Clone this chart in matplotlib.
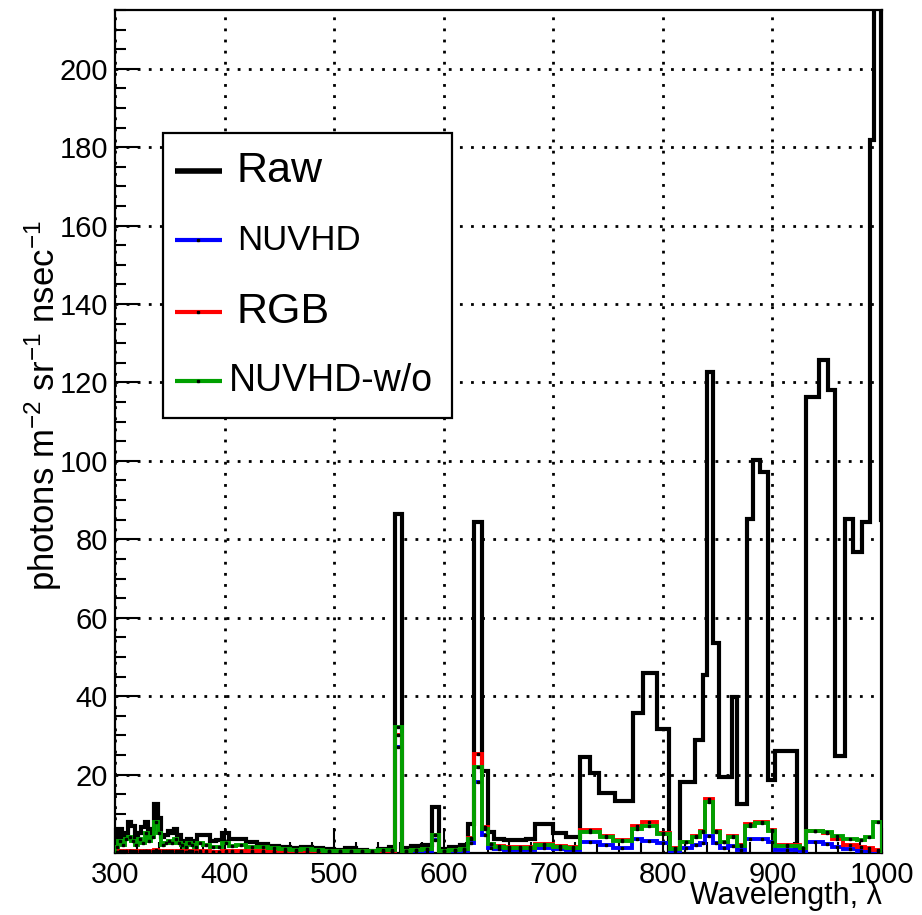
import numpy as np
import matplotlib.pyplot as plt
from matplotlib.patches import Rectangle
from matplotlib.ticker import MultipleLocator

plt.rcParams['font.family'] = ['Liberation Sans', 'DejaVu Sans']
plt.rcParams['mathtext.fontset'] = 'custom'
plt.rcParams['mathtext.rm'] = 'Liberation Sans'
plt.rcParams['mathtext.it'] = 'Liberation Sans'

# bin edges (nm) for the raw spectrum
wl_raw = [300, 303, 306, 309, 312, 315, 318, 321, 324, 327, 330, 333, 336, 339,
          342, 345, 348, 351, 354, 357, 360, 363, 366, 369, 372, 375, 380, 387,
          392, 398, 404, 410, 420, 430, 440, 450, 460, 470, 480, 490, 500, 510,
          520, 530, 540, 550, 555.5, 561.5, 570, 580, 589, 596, 605, 615, 622,
          627.6, 634.7, 640, 646, 655, 665, 675, 683, 700, 712,
          724.5, 733.5, 741.7, 756, 772.5, 782, 794.4, 806, 815.6, 829, 836.3,
          840, 845.5, 851.5, 862.8, 868, 876.5, 882.6, 888.7, 895.7, 902.3, 922,
          931, 942.8, 951, 957, 966, 973.8, 981.5, 989, 992.7, 999.5, 1000]

raw = [3, 6, 4, 5, 8, 7, 3.5, 5, 6.5, 8, 4.5, 6, 12.5, 9, 4, 4.5, 5.5, 5, 6,
       4.5, 3, 2.5, 3.5, 3, 2.5, 4.5, 4.5, 3, 3.2, 5, 3.5, 3.5,
       2.8, 2.4, 1.8, 1.5, 1.3, 1.5, 1.2, 1.0, 0.8, 1.2, 0.8, 0.6, 1.0,
       1.5, 86.5, 1.2, 1.8, 2.0, 11.8, 1.0, 1.5, 2.0, 7.5,
       84.5, 20.8, 5.3, 3.5, 3.2, 3.2, 3.5, 7.5, 5, 4,
       24.6, 20.3, 15.2, 13.3, 35.6, 45.8, 31.7, 0.3, 18, 28.7, 45.3, 122.7,
       53.5, 19.3, 39.7, 12.5, 85.3, 100.3, 97.2, 18.5, 26.1, 0.3, 116.2,
       125.7, 118.2, 24.8, 85.3, 76.7, 84.4, 181.8, 240, 85]

# bin edges (nm) for the filtered spectra
wl_filt = [300, 303, 306, 309, 312, 315, 318, 321, 324, 327, 330, 333, 336, 339,
           342, 345, 348, 351, 354, 357, 360, 363, 366, 369, 372, 375, 380, 387,
           392, 398, 404, 410, 420, 430, 440, 450, 460, 470, 480, 490, 500, 510,
           520, 530, 540, 550, 555.5, 561.5, 570, 580, 589, 596, 605, 615, 622,
           627.6, 634.7, 640, 646, 655, 665, 675, 683, 700, 712,
           724, 742.6, 754.5, 771.5, 780.7, 794.4, 806.5, 815.7, 826.3, 834,
           838.5, 845.5, 852, 859.8, 867.4, 875, 884, 896.2, 902.3, 925, 931,
           946, 954, 964.7, 976.9, 984.5, 992, 1000]

nuvhd = [0.2, 0.3, 0.2, 0.3, 0.4, 0.3, 0.2, 0.3, 0.2, 0.4, 0.3, 0.3, 0.5, 0.4,
         0.2, 0.2, 0.3, 0.2, 0.3, 0.2, 0.2, 0.2, 0.2, 0.2, 0.2,
         0.3, 0.2, 0.2, 0.2, 0.3, 0.2, 0.3,
         0.3, 0.3, 0.3, 0.3, 0.3, 0.3, 0.3, 0.3, 0.2, 0.3, 0.2, 0.2, 0.3,
         0.3, 27, 0.3, 0.4, 0.5, 3.2, 0.4, 0.5, 0.6, 2.5,
         18, 4.5, 1.2, 0.9, 0.8, 0.8, 0.8, 1.2, 1.0, 0.8,
         2.7, 2.0, 1.2, 3.6, 3.1, 2.5, 0.6, 1.3, 2.0, 2.5, 4.4, 2.5, 1.2, 1.8,
         0.7, 3.6, 3.6, 2.8, 0.7, 0.5, 2.7, 2.2, 1.6, 0.9, 0.6, 0.5, 0.4]

rgb = [0.3, 0.5, 0.4, 0.5, 0.6, 0.5, 0.4, 0.5, 0.4, 0.6, 0.5, 0.5, 0.8, 0.6,
       0.4, 0.4, 0.5, 0.4, 0.5, 0.4, 0.4, 0.3, 0.4, 0.4, 0.3,
       0.4, 0.4, 0.3, 0.3, 0.5, 0.4, 0.5,
       0.5, 0.6, 0.6, 0.5, 0.5, 0.6, 0.5, 0.5, 0.4, 0.5, 0.4, 0.3, 0.5,
       0.6, 30, 0.5, 0.7, 0.9, 4.5, 0.6, 0.8, 1.1, 3.8,
       25.3, 6.6, 2.4, 1.7, 1.5, 1.4, 1.5, 2.2, 1.8, 1.5,
       5.8, 4.4, 3.4, 6.8, 7.8, 5.2, 1.2, 2.9, 4.2, 5.6, 13.8, 5.6, 2.9, 4.2,
       2.0, 7.3, 7.9, 5.9, 2.0, 1.2, 5.5, 5.0, 3.5, 2.0, 1.5, 1.2, 0.8]

nuvhd_wo = [1.5, 3, 2, 3.5, 4, 3, 2, 3.5, 2.5, 5, 3, 4, 8, 5, 2, 2.5, 3, 2.5,
            3.5, 2.5, 2, 1.5, 2.5, 2, 1.5,
            2.5, 2, 1.5, 1.5, 2.5, 1.8, 2,
            1.5, 1.5, 1.2, 1, 0.8, 0.9, 0.7, 0.6, 0.5, 0.6, 0.5, 0.4, 0.7,
            0.8, 32, 0.6, 0.8, 1.0, 4.5, 0.6, 0.8, 1.0, 3.5,
            22, 6.2, 2.2, 1.5, 1.3, 1.2, 1.3, 2.0, 1.6, 1.3,
            5.3, 4, 3.1, 6.1, 7, 4.8, 1.1, 2.7, 4, 5.3, 12.9, 5.3, 2.7, 4,
            1.9, 7, 7.6, 5.7, 1.9, 1.2, 5.7, 5.3, 4.4, 3.6, 3.4, 4, 7.8]

fig = plt.figure(figsize=(9.22, 9.15), dpi=100)
ax = fig.add_axes([0.1247, 0.0678, 0.8319, 0.9213])

ax.stairs(raw, wl_raw, color='black', lw=3.0, joinstyle='miter', zorder=3)

series = [(nuvhd, 'blue'), (rgb, 'red'), (nuvhd_wo, '#00a000')]
e = np.array(wl_filt)
centers = (e[:-1] + e[1:]) / 2
for vals, col in series:
    ax.stairs(vals, wl_filt, color=col, lw=2.8, joinstyle='miter', zorder=4)
    ax.plot(centers, vals, ls='none', marker='s', ms=1.6, color='black',
            zorder=5)

ax.set_xlim(300, 1000)
ax.set_ylim(0, 215)
ax.xaxis.set_major_locator(MultipleLocator(100))
ax.xaxis.set_minor_locator(MultipleLocator(20))
ax.set_yticks(np.arange(20, 201, 20))
ax.yaxis.set_minor_locator(MultipleLocator(5))
ax.tick_params(which='both', direction='in', top=False, right=False,
               width=1.5, labelsize=21)
ax.tick_params(which='major', length=18)
ax.tick_params(which='minor', length=8)
ax.tick_params(axis='x', pad=6)
ax.tick_params(axis='y', pad=5)
for sp in ax.spines.values():
    sp.set_linewidth(1.6)

ax.grid(True, which='major', color='black', ls=(0, (1, 3)), lw=2.0)
ax.set_axisbelow(True)

# legend box
ax.add_patch(Rectangle((0.0626, 0.516), 0.3768, 0.338, transform=ax.transAxes,
                       facecolor='white', edgecolor='black', lw=1.6, zorder=6))
leg_rows = [('Raw', 'black', 31, 0.809, 0.159, 4.0),
            ('NUVHD', 'blue', 25, 0.727, 0.159, 3.0),
            ('RGB', 'red', 31, 0.642, 0.159, 3.0),
            ('NUVHD-w/o', '#00a000', 27, 0.560, 0.149, 3.0)]
for lab, col, fs, yy, tx, lw in leg_rows:
    ax.plot([0.0782, 0.1395], [yy, yy], transform=ax.transAxes, color=col,
            lw=lw, solid_capstyle='butt', zorder=7, clip_on=False)
    if col != 'black':
        ax.plot([0.1088], [yy], transform=ax.transAxes, ls='none', marker='s',
                ms=1.6, color='black', zorder=8)
    ax.text(tx, yy, lab, transform=ax.transAxes, fontsize=fs, va='center',
            ha='left', zorder=8)

fig.text(0.047, 0.557, r'photons m$^{-2}$ sr$^{-1}$ nsec$^{-1}$', rotation=90,
         fontsize=25, ha='center', va='center')
fig.text(0.9566, 0.004, 'Wavelength, λ', fontsize=22, ha='right',
         va='bottom')

fig.savefig('out.png', dpi=100)
